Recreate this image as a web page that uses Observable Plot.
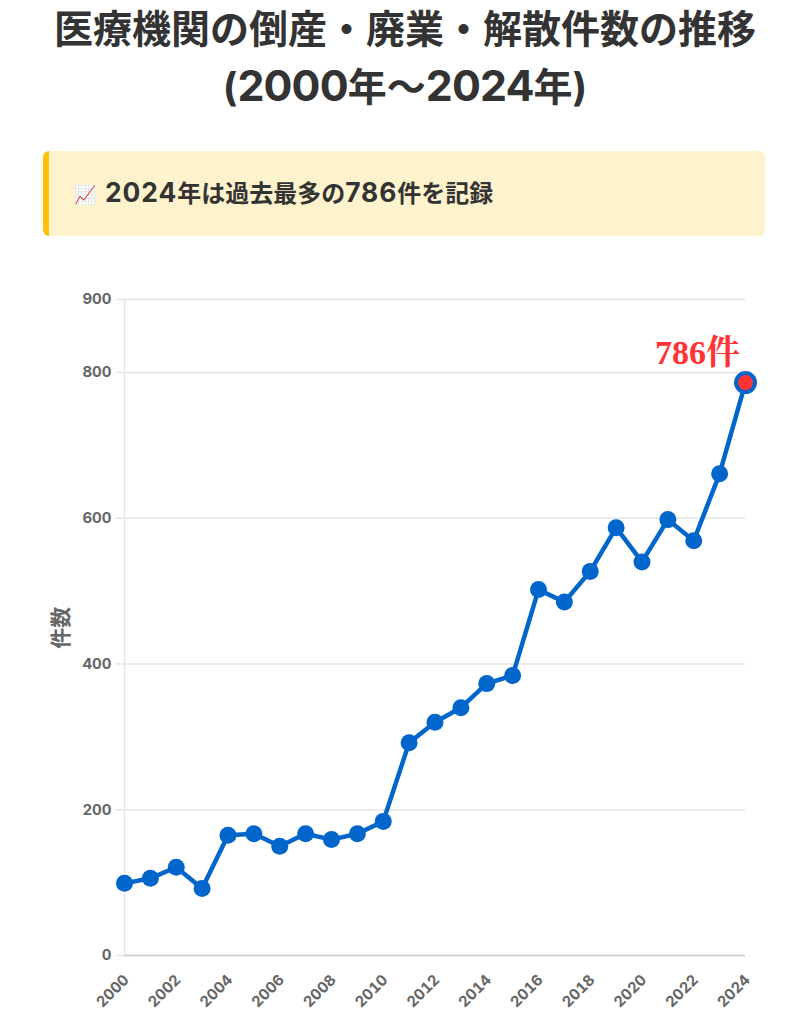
<!DOCTYPE html>
<html lang="ja">
<head>
<meta charset="utf-8">
<script src="https://cdn.jsdelivr.net/npm/d3@7"></script>
<script src="https://cdn.jsdelivr.net/npm/@observablehq/plot@0.6"></script>
<style>
html,body{margin:0;padding:0;background:#fff;width:810px;height:1024px;overflow:hidden}
body{font-family:Inter,"Noto Sans CJK JP",sans-serif;color:#333;position:relative}
h1{position:absolute;left:0;top:0;width:810px;margin:0;text-align:center;font-size:39px;line-height:58px;font-weight:700;color:#333}
#callout{position:absolute;left:43px;top:151px;width:722px;height:85px;box-sizing:border-box;background:#fff3cd;border-left:6px solid #ffc107;border-radius:6px;padding-left:25px;font-size:24px;font-weight:700;line-height:85px;color:#333;white-space:nowrap}
#callout .icon{display:inline-block;width:31px;font-size:18px;vertical-align:1px}
.n{font-size:1.1em;letter-spacing:.035em;line-height:1}
h1 .n{letter-spacing:-.02em}
#chart{position:absolute;left:0;top:270px}
svg{display:block}
</style>
</head>
<body>
<h1>医療機関の倒産・廃業・解散件数の推移<br>(<span class="n">2000</span>年～<span class="n">2024</span>年)</h1>
<div id="callout"><span class="icon">📈</span><span class="n">2024</span>年は過去最多の<span class="n">786</span>件を記録</div>
<div id="chart"></div>
<script>
const years = [2000,2001,2002,2003,2004,2005,2006,2007,2008,2009,2010,2011,2012,2013,2014,2015,2016,2017,2018,2019,2020,2021,2022,2023,2024];
const counts = [99,106,121,92,165,167,150,167,159,167,184,292,320,340,373,384,502,485,527,587,540,598,569,661,786];
const xTicks = [2000,2002,2004,2006,2008,2010,2012,2014,2016,2018,2020,2022,2024];
const yTicks = [0,200,400,600,800,900];
const rows = years.map((year,i)=>({year,count:counts[i]}));
const last = [rows[rows.length-1]];
const blue = "#0066cc", red = "#ff3333", sans = 'Inter,"Noto Sans CJK JP",sans-serif';

const chart = Plot.plot({
  width:810, height:754,
  marginLeft:124, marginRight:65, marginTop:29, marginBottom:69,
  style:{fontFamily:sans, background:"transparent", overflow:"visible"},
  x:{type:"linear",domain:[2000,2024]},
  y:{type:"linear",domain:[0,900]},
  marks:[
    Plot.ruleY(yTicks,{x1:2000,x2:2024,stroke:"#e5e5e5",strokeWidth:1.5}),
    Plot.axisY({ticks:yTicks,tickSize:8,stroke:"#e5e5e5",strokeWidth:1.5,strokeOpacity:1,tickPadding:5,fill:"#666",fontSize:15,fontWeight:700,label:null}),
    Plot.ruleX([2000],{y1:0,y2:900,stroke:"#e5e5e5",strokeWidth:1.5}),
    Plot.ruleY([0],{x1:2000,x2:2024,stroke:"#cccccc",strokeWidth:1.5}),
    Plot.axisX({ticks:xTicks,tickFormat:"d",tickSize:0,tickRotate:-45,tickPadding:22,dx:2,fill:"#666",fontSize:15,fontWeight:700,label:null}),
    Plot.text(["件数"],{frameAnchor:"left",dx:-63,y:()=>421,rotate:-90,fill:"#666",fontSize:21,fontWeight:700}),
    Plot.line(rows,{x:"year",y:"count",stroke:blue,strokeWidth:4.5,curve:"linear"}),
    Plot.dot(rows,{x:"year",y:"count",r:8.5,fill:blue,stroke:blue,strokeWidth:0}),
    Plot.dot(last,{x:"year",y:"count",r:9.5,fill:red,stroke:blue,strokeWidth:4}),
    Plot.text(last,{x:"year",y:"count",text:d=>d.count+"件",dx:-48,dy:-29,fill:red,fontSize:34,fontWeight:700,fontFamily:'"Liberation Serif","Noto Serif CJK JP",serif'})
  ]
});
document.getElementById("chart").append(chart);
</script>
</body>
</html>
